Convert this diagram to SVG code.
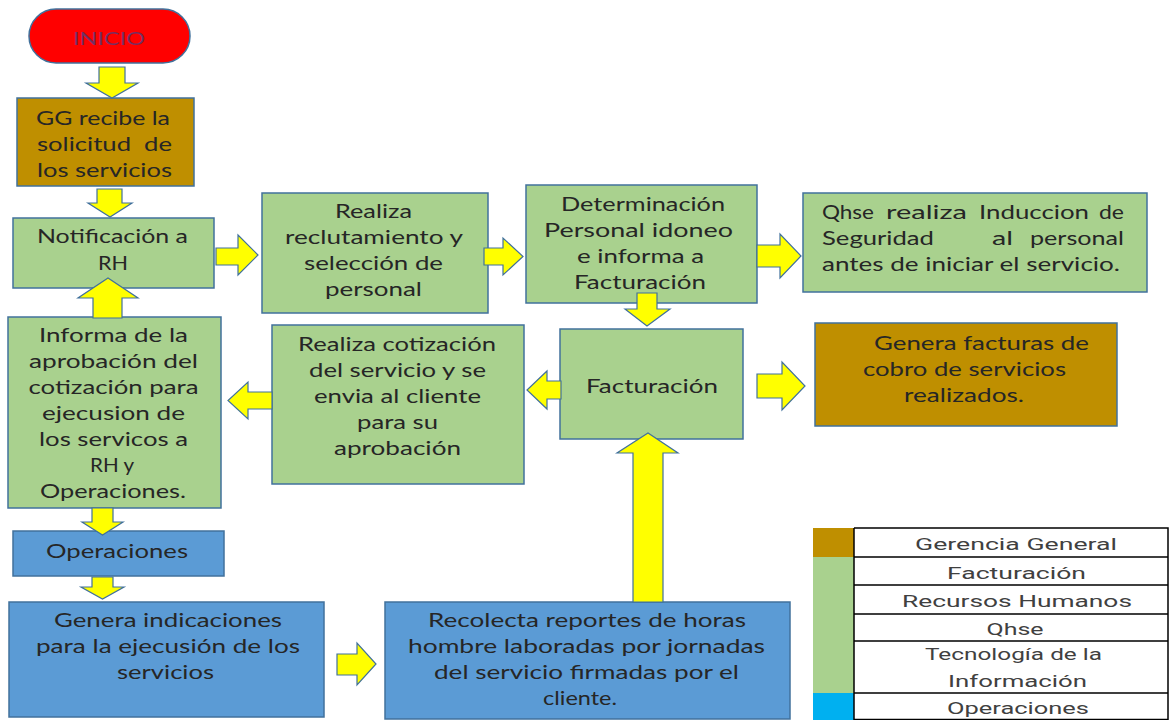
<svg xmlns="http://www.w3.org/2000/svg" width="1169" height="720" viewBox="0 0 1169 720">
<style>
.bg{fill:#ffffff}
.g{fill:#A9D18E;stroke:#41719C;stroke-width:1.5}
.o{fill:#BF8F00;stroke:#41719C;stroke-width:1.5}
.b{fill:#5B9BD5;stroke:#41719C;stroke-width:1.5}
.r{fill:#FF0000;stroke:#41719C;stroke-width:1.5}
.t{font-family:Lato,"Open Sans","Liberation Sans",sans-serif;font-size:18.5px;fill:#262626;text-anchor:middle}
.tl{text-anchor:start}
.pre{white-space:pre}
.ini{font-family:Lato,"Open Sans","Liberation Sans",sans-serif;font-size:16.5px;fill:#742F63;text-anchor:middle}
.lg{font-family:Roboto,"Open Sans","Liberation Sans",sans-serif;font-size:16.5px;fill:#404040;text-anchor:middle}
.ar{fill:#FFFF00;stroke:#41719C;stroke-width:1.2;stroke-linejoin:miter}
.ln{stroke:#000;stroke-width:1.5;fill:none}
</style>
<rect class="bg" x="0" y="0" width="1169" height="720"/>

<g id="inicio">
<rect class="r" x="29" y="9" width="161" height="54" rx="27"/>
<text class="ini" x="109" y="45" textLength="72" lengthAdjust="spacingAndGlyphs">INICIO</text>
</g>

<g id="gg-recibe">
<rect class="o" x="17" y="98" width="177" height="88"/>
<text class="t tl" x="36" y="125" textLength="134" lengthAdjust="spacingAndGlyphs">GG recibe la</text>
<text class="t tl pre" x="37" y="151" textLength="135" lengthAdjust="spacingAndGlyphs">solicitud  de</text>
<text class="t tl" x="37" y="177" textLength="135" lengthAdjust="spacingAndGlyphs">los servicios</text>
</g>

<g id="notificacion">
<rect class="g" x="13" y="218" width="201" height="70"/>
<text class="t" x="112.5" y="243" textLength="151" lengthAdjust="spacingAndGlyphs">Notificación a</text>
<text class="t" x="113" y="270" textLength="30" lengthAdjust="spacingAndGlyphs">RH</text>
</g>

<g id="reclutamiento">
<rect class="g" x="262" y="193" width="226" height="120"/>
<text class="t" x="373.5" y="218" textLength="77" lengthAdjust="spacingAndGlyphs">Realiza</text>
<text class="t" x="374" y="244" textLength="178" lengthAdjust="spacingAndGlyphs">reclutamiento y</text>
<text class="t" x="373.5" y="270" textLength="139" lengthAdjust="spacingAndGlyphs">selección de</text>
<text class="t" x="373.5" y="296" textLength="97" lengthAdjust="spacingAndGlyphs">personal</text>
</g>

<g id="determinacion">
<rect class="g" x="526" y="185" width="231" height="118"/>
<text class="t" x="643" y="211" textLength="164" lengthAdjust="spacingAndGlyphs">Determinación</text>
<text class="t" x="638.5" y="237" textLength="189" lengthAdjust="spacingAndGlyphs">Personal idoneo</text>
<text class="t" x="640.5" y="263" textLength="127" lengthAdjust="spacingAndGlyphs">e informa a</text>
<text class="t" x="640" y="289" textLength="132" lengthAdjust="spacingAndGlyphs">Facturación</text>
</g>

<g id="qhse">
<rect class="g" x="803" y="193" width="344" height="99"/>
<text class="t tl" x="822" y="219" textLength="52" lengthAdjust="spacingAndGlyphs">Qhse</text>
<text class="t tl" x="886" y="219" textLength="81" lengthAdjust="spacingAndGlyphs">realiza</text>
<text class="t tl" x="979" y="219" textLength="110" lengthAdjust="spacingAndGlyphs">Induccion</text>
<text class="t tl" x="1099" y="219" textLength="25" lengthAdjust="spacingAndGlyphs">de</text>
<text class="t tl" x="822" y="245" textLength="112" lengthAdjust="spacingAndGlyphs">Seguridad</text>
<text class="t tl" x="992" y="245" textLength="21" lengthAdjust="spacingAndGlyphs">al</text>
<text class="t tl" x="1030" y="245" textLength="94" lengthAdjust="spacingAndGlyphs">personal</text>
<text class="t tl" x="822" y="271" textLength="298" lengthAdjust="spacingAndGlyphs">antes de iniciar el servicio.</text>
</g>

<g id="facturacion">
<rect class="g" x="560" y="329" width="183" height="110"/>
<text class="t" x="652" y="393" textLength="132" lengthAdjust="spacingAndGlyphs">Facturación</text>
</g>

<g id="genera-facturas">
<rect class="o" x="815" y="323" width="302" height="103"/>
<text class="t" x="981.5" y="350" textLength="215" lengthAdjust="spacingAndGlyphs">Genera facturas de</text>
<text class="t" x="964.5" y="376" textLength="203" lengthAdjust="spacingAndGlyphs">cobro de servicios</text>
<text class="t" x="964" y="402" textLength="120" lengthAdjust="spacingAndGlyphs">realizados.</text>
</g>

<g id="cotizacion">
<rect class="g" x="272" y="325" width="252" height="159"/>
<text class="t" x="397" y="351" textLength="198" lengthAdjust="spacingAndGlyphs">Realiza cotización</text>
<text class="t" x="397.5" y="377" textLength="177" lengthAdjust="spacingAndGlyphs">del servicio y se</text>
<text class="t" x="397.5" y="403" textLength="167" lengthAdjust="spacingAndGlyphs">envia al cliente</text>
<text class="t" x="397.5" y="429" textLength="81" lengthAdjust="spacingAndGlyphs">para su</text>
<text class="t" x="397.5" y="455" textLength="127" lengthAdjust="spacingAndGlyphs">aprobación</text>
</g>

<g id="informa">
<rect class="g" x="8" y="317" width="213" height="191"/>
<text class="t" x="113.5" y="342" textLength="149" lengthAdjust="spacingAndGlyphs">Informa de la</text>
<text class="t" x="113.5" y="368" textLength="169" lengthAdjust="spacingAndGlyphs">aprobación del</text>
<text class="t" x="113.5" y="394" textLength="170" lengthAdjust="spacingAndGlyphs">cotización para</text>
<text class="t" x="113.5" y="420" textLength="143" lengthAdjust="spacingAndGlyphs">ejecusion de</text>
<text class="t" x="113.5" y="446" textLength="149" lengthAdjust="spacingAndGlyphs">los servicos a</text>
<text class="t" x="112" y="472" textLength="44" lengthAdjust="spacingAndGlyphs">RH y</text>
<text class="t" x="113" y="498" textLength="146" lengthAdjust="spacingAndGlyphs">Operaciones.</text>
</g>

<g id="operaciones">
<rect class="b" x="13" y="531" width="211" height="45"/>
<text class="t" x="117" y="558" textLength="142" lengthAdjust="spacingAndGlyphs">Operaciones</text>
</g>

<g id="genera-indicaciones">
<rect class="b" x="9" y="602" width="315" height="115"/>
<text class="t" x="168" y="627" textLength="228" lengthAdjust="spacingAndGlyphs">Genera indicaciones</text>
<text class="t" x="168" y="653" textLength="264" lengthAdjust="spacingAndGlyphs">para la ejecusión de los</text>
<text class="t" x="165.5" y="679" textLength="97" lengthAdjust="spacingAndGlyphs">servicios</text>
</g>

<g id="recolecta">
<rect class="b" x="385" y="602" width="405" height="117"/>
<text class="t" x="587" y="627" textLength="318" lengthAdjust="spacingAndGlyphs">Recolecta reportes de horas</text>
<text class="t" x="586.5" y="653" textLength="357" lengthAdjust="spacingAndGlyphs">hombre laboradas por jornadas</text>
<text class="t" x="586.5" y="679" textLength="305" lengthAdjust="spacingAndGlyphs">del servicio firmadas por el</text>
<text class="t" x="580" y="705" textLength="74" lengthAdjust="spacingAndGlyphs">cliente.</text>
</g>

<g id="connectors">
<polygon class="ar" points="99,67 125,67 125,83 138,83 112,98 86,83 99,83"/>
<polygon class="ar" points="97,189 122,189 122,203 132,203 110,217 88,203 97,203"/>
<polygon class="ar" points="216,248 238,248 238,235 258,255 238,275 238,265 216,265"/>
<polygon class="ar" points="484,248 503,248 503,238 523,256.5 503,275 503,265 484,265"/>
<polygon class="ar" points="757,245 780,245 780,234 801,256 780,278 780,267 757,267"/>
<polygon class="ar" points="637,293 657,293 657,309 670,309 647,326 625,309 637,309"/>
<polygon class="ar" points="561,381 547,381 547,371 527,390 547,409 547,399 561,399"/>
<polygon class="ar" points="757,374 782,374 782,362 805,386 782,410 782,398 757,398"/>
<polygon class="ar" points="272,392 248,392 248,382 228,400.5 248,419 248,409 272,409"/>
<polygon class="ar" points="93,318 93,298 78,298 108,278 138,298 122,298 122,318"/>
<polygon class="ar" points="92,508 113,508 113,522 123,522 102.5,535 82,522 92,522"/>
<polygon class="ar" points="92,577 113,577 113,587 124,587 102.5,599 81,587 92,587"/>
<polygon class="ar" points="337,654 357,654 357,643 376,664 357,685 357,675 337,675"/>
<polygon class="ar" points="633,602 633,453 617,453 648,433 678,453 663,453 663,602"/>
</g>

<g id="legend">
<rect x="813" y="528" width="41" height="29" fill="#BF8F00"/>
<rect x="813" y="557" width="41" height="136" fill="#A9D18E"/>
<rect x="813" y="693" width="41" height="27" fill="#00B0F0"/>
<path class="ln" d="M854,528 H1168 V720 M854,528 V720 M854,557 H1168 M854,585 H1168 M854,614 H1168 M854,641 H1168 M854,693 H1168 M854,719.5 H1168"/>
<text class="lg" x="1016" y="550" textLength="202" lengthAdjust="spacingAndGlyphs">Gerencia General</text>
<text class="lg" x="1016.5" y="579" textLength="139" lengthAdjust="spacingAndGlyphs">Facturación</text>
<text class="lg" x="1017" y="607" textLength="230" lengthAdjust="spacingAndGlyphs">Recursos Humanos</text>
<text class="lg" x="1015" y="635" textLength="57" lengthAdjust="spacingAndGlyphs">Qhse</text>
<text class="lg" x="1013.5" y="660" textLength="177" lengthAdjust="spacingAndGlyphs">Tecnología de la</text>
<text class="lg" x="1017.5" y="687" textLength="139" lengthAdjust="spacingAndGlyphs">Información</text>
<text class="lg" x="1018" y="714" textLength="142" lengthAdjust="spacingAndGlyphs">Operaciones</text>
</g>
</svg>
